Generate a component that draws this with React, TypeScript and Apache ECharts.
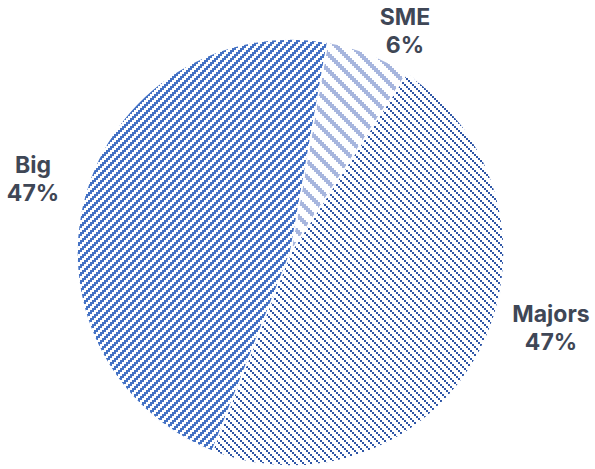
import React, { useEffect, useRef } from "react";
import * as echarts from "echarts";

const categories = ["SME", "Majors", "Big"];
const values = [6.4, 46.8, 46.8];
const labelAnchors: [number, number][] = [
  [405, 31],
  [551, 328],
  [33, 179],
];

type Rule = (x: number, y: number) => boolean;

const SCALE = 2;

function makeTile(size: number, color: string, rule: Rule) {
  const n = size * SCALE;
  const c = document.createElement("canvas");
  c.width = n;
  c.height = n;
  const ctx = c.getContext("2d")!;
  ctx.fillStyle = "#ffffff";
  ctx.fillRect(0, 0, n, n);
  ctx.fillStyle = color;
  for (let y = 0; y < size; y++) {
    for (let x = 0; x < size; x++) {
      if (rule(x, y)) ctx.fillRect(x * SCALE, y * SCALE, SCALE, SCALE);
    }
  }
  return { image: c.toDataURL(), repeat: "repeat", imageWidth: n, imageHeight: n } as any;
}

const mod = (a: number, n: number) => ((a % n) + n) % n;

export default function App() {
  const ref = useRef<HTMLDivElement>(null);
  useEffect(() => {
    if (!ref.current) return;
    const chart = echarts.init(ref.current, undefined, { renderer: "svg" });
    // wide downward diagonal
    const smeFill = makeTile(8, "#A7B6DE", (x, y) => mod(x - y, 8) < 3);
    // light downward diagonal
    const majorsFill = makeTile(4, "#2F56A6", (x, y) => mod(x - y, 4) === 0);
    // dark upward diagonal
    const bigFill = makeTile(4, "#4472C4", (x, y) => mod(x + y, 4) < 2);
    const fills = [smeFill, majorsFill, bigFill];
    chart.setOption({
      animation: false,
      backgroundColor: "#ffffff",
      series: [
        {
          type: "pie",
          center: [290.5, 252.5],
          radius: 213.5,
          startAngle: 80,
          clockwise: true,
          percentPrecision: 0,
          data: categories.map((name, i) => ({
            name,
            value: values[i],
            itemStyle: { color: fills[i] },
          })),
          itemStyle: { borderColor: "#ffffff", borderWidth: 1.5 },
          label: {
            show: true,
            position: "outside",
            formatter: "{b}\n{d}%",
            fontFamily: "Inter",
            fontWeight: "bold",
            fontSize: 23,
            lineHeight: 28,
            color: "#3F4756",
            align: "center",
            overflow: "none",
            width: 140,
          },
          labelLine: { show: false },
          labelLayout: (params: any) => {
            const p = labelAnchors[params.dataIndex];
            return { x: p[0], y: p[1], align: "center", verticalAlign: "middle" };
          },
          emphasis: { disabled: true },
        },
      ],
    });
    return () => chart.dispose();
  }, []);
  return (
    <div
      ref={ref}
      style={{ position: "fixed", left: 0, top: 0, width: 595, height: 469 }}
    />
  );
}
